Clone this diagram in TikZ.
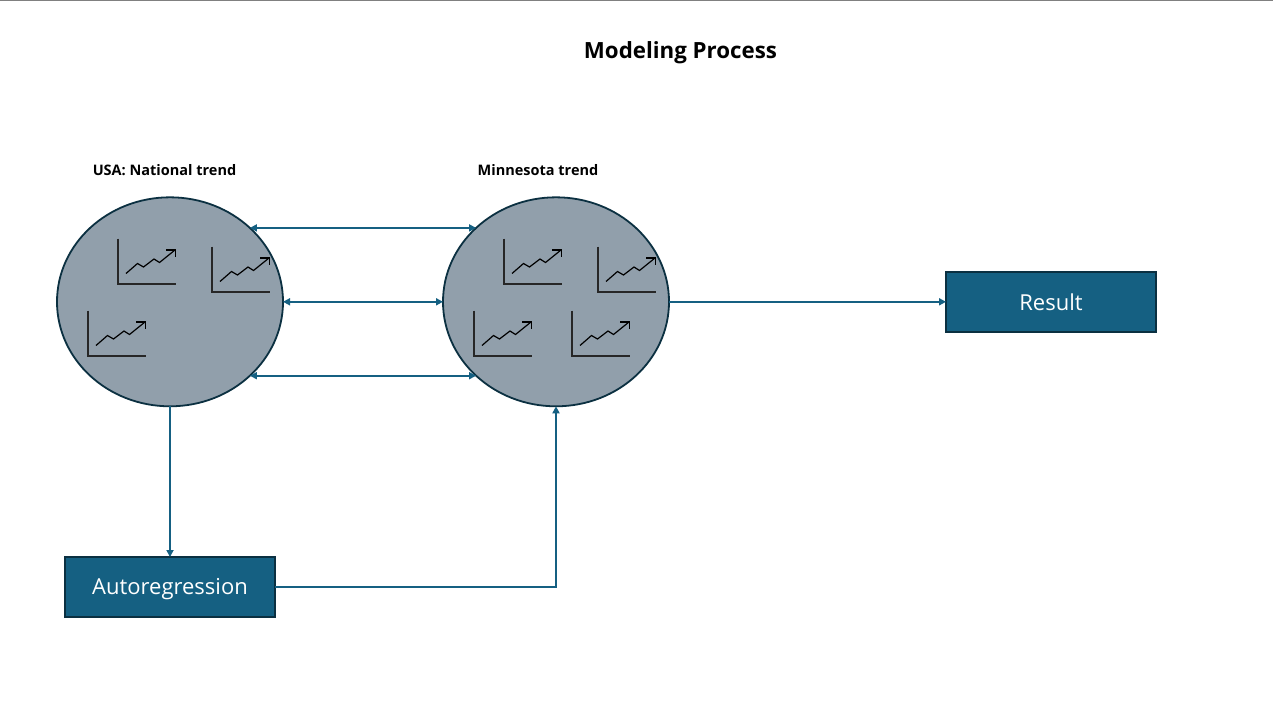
\documentclass[tikz,border=0pt]{standalone}
\usepackage{fontspec}
\setmainfont{Open Sans}
\usetikzlibrary{shapes.geometric,arrows.meta}
\definecolor{blueA}{HTML}{156082}
\definecolor{grayA}{HTML}{919FAB}
\definecolor{edgeA}{HTML}{0B3041}
\tikzset{
  blob/.style={ellipse,draw=edgeA,fill=grayA,line width=1.8pt,minimum width=226pt,minimum height=209pt,inner sep=0pt,outer sep=0pt},
  boxA/.style={rectangle,draw=edgeA,fill=blueA,line width=1.8pt,minimum width=210pt,minimum height=60pt,inner sep=0pt,outer sep=0pt,text=white,font=\fontsize{22}{24}\selectfont},
  lab/.style={font=\bfseries\fontsize{14.5}{17}\selectfont,inner sep=0pt},
  link/.style={draw=blueA,line width=1.7pt,-{Stealth[length=7pt,width=7pt,inset=0pt]}},
  dlink/.style={draw=blueA,line width=1.7pt,{Stealth[length=7pt,width=7pt,inset=0pt]}-{Stealth[length=7pt,width=7pt,inset=0pt]}},
  chart/.pic={
    \draw[line width=1.5pt,color=black!85] (0,-45.5) -- (0,0) -- (58,0);
    \draw[line width=1.2pt,black,line join=miter] (8,-10.5) -- (19.5,-20.5) -- (25.5,-17) -- (36,-25) -- (41.5,-21.5) -- (57,-34);
    \draw[line width=1.2pt,black] (48,-34) -- (57.3,-34) -- (57.3,-27);
  }
}
\begin{document}
\begin{tikzpicture}[x=1pt,y=-1pt]
\useasboundingbox (0,0) rectangle (1273,713);
\fill[white] (0,0) rectangle (1273,713);
\draw[color=black!50,line width=1pt] (0,0.5) -- (1273,0.5);
\node[font=\bfseries\fontsize{22.3}{26}\selectfont,inner sep=0pt] (title) at (680.5,52.5) {Modeling Process};
\node[lab] (usa) at (164.5,170) {USA: National trend};
\node[lab] (mn) at (538,170) {Minnesota trend};
\node[blob] (u) at (170,301.8) {};
\node[blob] (m) at (556,301.8) {};
\node[boxA] (ar) at (170,587) {};
\node[font=\fontsize{22}{24}\selectfont,text=white,inner sep=0pt] (artext) at (170,589) {Autoregression};
\node[boxA] (res) at (1051,301.8) {Result};
\foreach \p in {(118,284),(212,292),(88,356),(504,284),(598,292),(474,356),(572,356)}
  \pic at \p {chart};
\draw[dlink] (u.north east) -- (m.north west);
\draw[dlink] (u.east) -- (m.west);
\draw[dlink] (u.south east) -- (m.south west);
\draw[link] (m.east) -- (res.west);
\draw[link] (u.south) -- (ar.north);
\draw[link] (ar.east) -| (m.south);
\end{tikzpicture}
\end{document}
